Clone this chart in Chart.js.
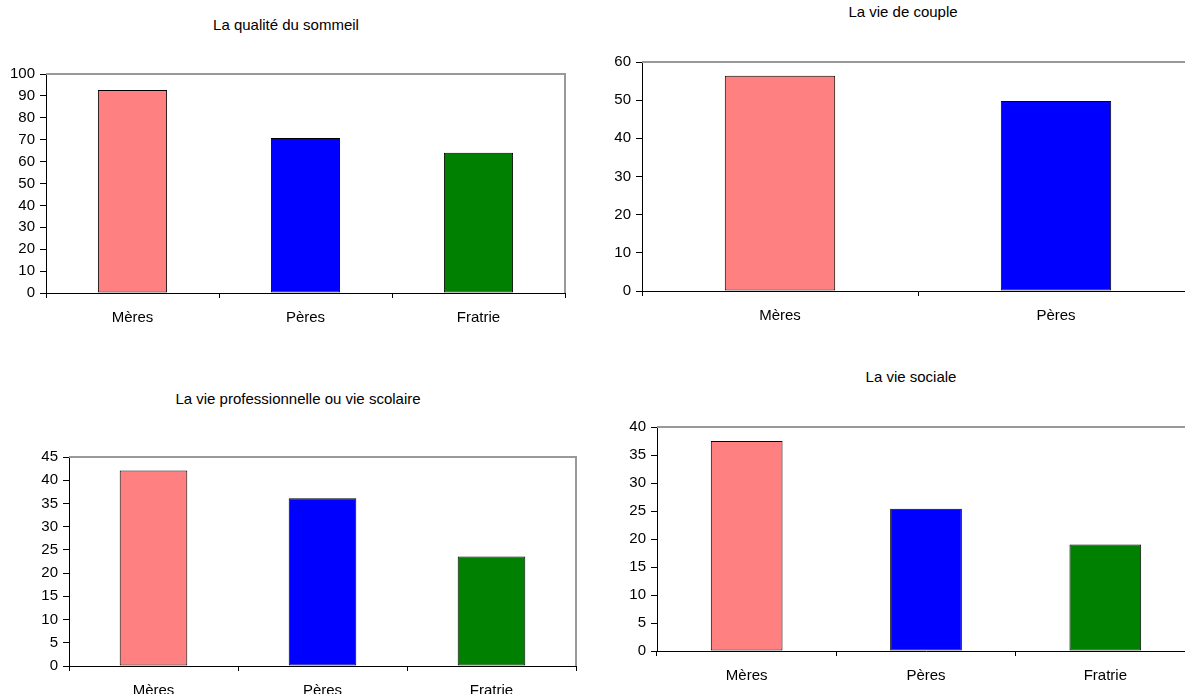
<!DOCTYPE html>
<html lang="fr">
<head>
<meta charset="utf-8">
<title>Retentissement sur la famille</title>
<script src="https://cdn.jsdelivr.net/npm/chart.js@4.4.1/dist/chart.umd.min.js"></script>
<style>
  html, body { margin: 0; padding: 0; background: #fff; }
  body { width: 1185px; height: 694px; position: relative; overflow: hidden; }
  canvas { position: absolute; }
  .titre {
    position: absolute;
    font: 15px "Liberation Sans", Arial, sans-serif;
    line-height: 16px;
    color: #000;
    white-space: nowrap;
    transform: translateX(-50%);
  }
</style>
</head>
<body>
<div class="titre" id="t1"></div>
<div class="titre" id="t2"></div>
<div class="titre" id="t3"></div>
<div class="titre" id="t4"></div>
<canvas id="c1"></canvas>
<canvas id="c2"></canvas>
<canvas id="c3"></canvas>
<canvas id="c4"></canvas>
<script>
// données (en %)
const groupes3 = ['Mères', 'Pères', 'Fratrie'];
const groupes2 = ['Mères', 'Pères'];

const sommeilValeurs = [92.7, 70.8, 64.0];
const coupleValeurs = [56.4, 49.8];
const proValeurs = [42.1, 36.1, 23.6];
const socialeValeurs = [37.5, 25.4, 19.0];

const titres = [
  'La qualité du sommeil',
  'La vie de couple',
  'La vie professionnelle ou vie scolaire',
  'La vie sociale'
];
const maxAxes = [100, 60, 45, 40];
const pasAxes = [10, 10, 5, 5];

const couleurs = ['#FF8080', '#0000FF', '#008000'];

const police = { family: '"Liberation Sans", Arial, sans-serif', size: 15 };

// bord gris en haut et à droite de la zone de tracé
const cadrePlugin = {
  id: 'cadre',
  afterDraw(chart) {
    const { ctx, chartArea } = chart;
    ctx.save();
    ctx.strokeStyle = '#999999';
    ctx.lineWidth = 2;
    ctx.beginPath();
    ctx.moveTo(chartArea.left, chartArea.top);
    ctx.lineTo(chartArea.right, chartArea.top);
    ctx.lineTo(chartArea.right, chartArea.bottom);
    ctx.stroke();
    ctx.restore();
  }
};

function placeTitre(id, texte, cx, cy) {
  const el = document.getElementById(id);
  el.textContent = texte;
  el.style.left = cx + 'px';
  el.style.top = (cy - 8) + 'px';
}

// zone: gauche du canvas, largeur de l'axe y, haut/bas/droite de la zone de tracé
function dessine(id, labels, valeurs, idx, zone) {
  const pad = { left: 0, top: 12, right: 10, bottom: 2 };
  const canvas = document.getElementById(id);
  const w = zone.plotRight - zone.left + pad.right;
  const h = pad.top + (zone.plotBottom - zone.plotTop) + 40 + pad.bottom;
  canvas.width = w;
  canvas.height = h;
  canvas.style.left = zone.left + 'px';
  canvas.style.top = (zone.plotTop - pad.top) + 'px';
  canvas.style.width = w + 'px';
  canvas.style.height = h + 'px';

  return new Chart(canvas.getContext('2d'), {
    type: 'bar',
    data: {
      labels: labels,
      datasets: [{
        data: valeurs,
        backgroundColor: couleurs.slice(0, labels.length),
        borderColor: '#000',
        borderWidth: 1,
        borderSkipped: false,
        categoryPercentage: 1,
        barPercentage: 0.4
      }]
    },
    options: {
      responsive: false,
      animation: false,
      devicePixelRatio: 1,
      layout: { padding: pad },
      plugins: {
        legend: { display: false },
        tooltip: { enabled: false }
      },
      scales: {
        x: {
          offset: true,
          grid: {
            offset: true,
            drawOnChartArea: false,
            tickLength: 5,
            color: '#000'
          },
          border: { color: '#000', width: 1 },
          ticks: { font: police, color: '#000', padding: 11, maxRotation: 0 },
          afterFit(scale) { scale.height = 40; }
        },
        y: {
          min: 0,
          max: maxAxes[idx],
          grid: {
            drawOnChartArea: false,
            tickLength: 6,
            color: '#000'
          },
          border: { color: '#000', width: 1 },
          ticks: { stepSize: pasAxes[idx], font: police, color: '#000', padding: 5 },
          afterFit(scale) { scale.width = zone.axisWidth; }
        }
      }
    },
    plugins: [cadrePlugin]
  });
}

placeTitre('t1', titres[0], 286, 25);
placeTitre('t2', titres[1], 903, 12);
placeTitre('t3', titres[2], 298, 399);
placeTitre('t4', titres[3], 911, 377);

dessine('c1', groupes3, sommeilValeurs, 0, { left: 0, axisWidth: 46, plotTop: 72, plotBottom: 293, plotRight: 565 });
dessine('c2', groupes2, coupleValeurs, 1, { left: 595, axisWidth: 47, plotTop: 60, plotBottom: 291, plotRight: 1194 });
dessine('c3', groupes3, proValeurs, 2, { left: 0, axisWidth: 69, plotTop: 455, plotBottom: 666, plotRight: 576 });
dessine('c4', groupes3, socialeValeurs, 3, { left: 600, axisWidth: 57, plotTop: 425, plotBottom: 651, plotRight: 1195 });
</script>
</body>
</html>
